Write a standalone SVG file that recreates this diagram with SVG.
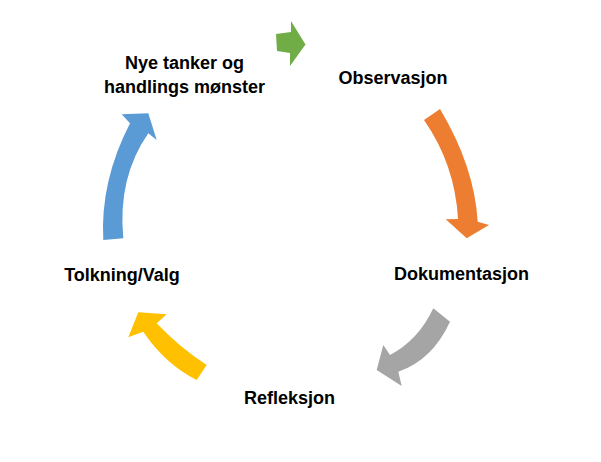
<svg xmlns="http://www.w3.org/2000/svg" width="601" height="462" viewBox="0 0 601 462">
<style>
.lbl{font-family:"Liberation Sans",Arial,sans-serif;font-weight:bold;font-size:18px;fill:#000;text-anchor:middle}
</style>
<rect width="601" height="462" fill="#fff"/>
<g id="connectors">
<path id="arrow-green" d="M276,34 L291,32 L291,21 L305.5,44.5 L290,66 L290,53 L277,51 Z" fill="#70AD47"/>
<path id="arrow-orange" d="M424,120 Q455,164.5 458,219 L445.7,219.3 L466.7,238.3 L489,225 L477.7,221.7 Q474.4,166.5 440,109 Z" fill="#ED7D31"/>
<path id="arrow-gray" d="M433.3,308.3 Q418.3,340.3 390,355 L383.3,345 L376.7,370 L401.7,386 L398.3,371.7 Q432.4,360 450,321.7 Z" fill="#A5A5A5"/>
<path id="arrow-yellow" d="M206.7,365 Q179,347 156.7,323.3 L166.7,314.3 L138.3,312.3 L128.3,337.3 L143.3,331.7 Q165,364 196.7,380 Z" fill="#FFC000"/>
<path id="arrow-blue" d="M103.3,240 Q100,181.7 130,123.3 L121.7,114.3 L148.3,113.3 L156.7,140 L148.3,133.3 Q117.5,177.6 123.3,238.3 Z" fill="#5B9BD5"/>
</g>
<g id="node-observasjon"><text class="lbl" x="393" y="83.5">Observasjon</text></g>
<g id="node-dokumentasjon"><text class="lbl" x="461.5" y="280">Dokumentasjon</text></g>
<g id="node-refleksjon"><text class="lbl" x="289.5" y="404">Refleksjon</text></g>
<g id="node-tolkning"><text class="lbl" x="122" y="281">Tolkning/Valg</text></g>
<g id="node-nye"><text class="lbl" x="184.5" y="69">Nye tanker og</text><text class="lbl" x="184.5" y="92.5">handlings mønster</text></g>
</svg>
